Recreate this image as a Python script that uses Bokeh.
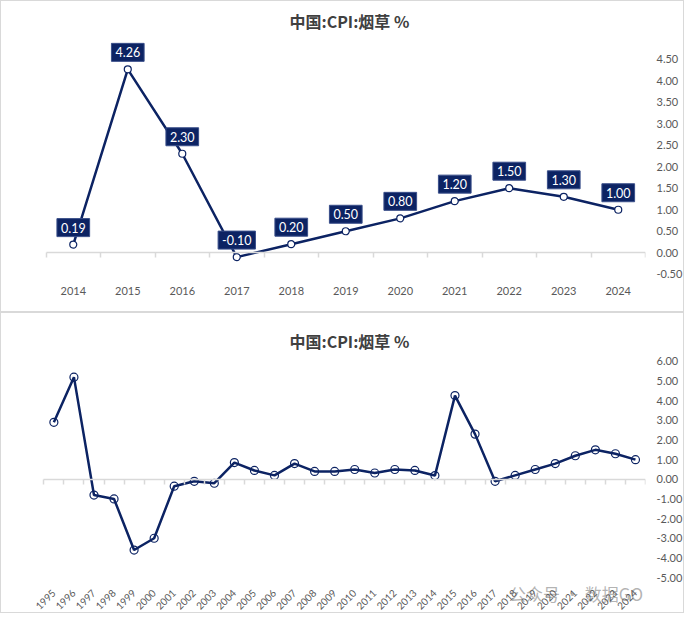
import math
from bokeh.plotting import figure
from bokeh.models import (ColumnDataSource, LinearAxis, FixedTicker, Range1d,
                          PrintfTickFormatter)
from bokeh.layouts import column
from bokeh.embed import file_html
from bokeh.resources import INLINE
from bokeh.core.properties import value

# ---------------- data ----------------
years = list(range(1995, 2025))
cpi_tobacco = [2.9, 5.2, -0.8, -1.0, -3.6, -3.0, -0.35, -0.1, -0.2, 0.85,
               0.45, 0.2, 0.8, 0.4, 0.4, 0.5, 0.32, 0.5, 0.45, 0.19,
               4.26, 2.30, -0.10, 0.20, 0.50, 0.80, 1.20, 1.50, 1.30, 1.00]
top_start_year = 2014
title_text = "中国:CPI:烟草 %"
top_yticks = [-0.5, 0.0, 0.5, 1.0, 1.5, 2.0, 2.5, 3.0, 3.5, 4.0, 4.5]
bottom_yticks = [-5, -4, -3, -2, -1, 0, 1, 2, 3, 4, 5, 6]
watermark = "公众号 · 数据GO"

NAVY = "#0c2363"
GRAY_TXT = "#595959"
AXIS_GRAY = "#d9d9d9"
TITLE_FONT = "Noto Sans CJK SC"
TICK_FONT = "Lato"


def base_fig(width, height, xr, yr, borders):
    l, r, t, b = borders
    p = figure(width=width, height=height, x_range=xr, y_range=yr,
               output_backend="svg", toolbar_location=None,
               y_axis_location="right", min_border_left=l, min_border_right=r,
               min_border_top=t, min_border_bottom=b,
               outline_line_color=None, background_fill_color="white",
               border_fill_color="white")
    p.styles = {"border": "1px solid #d9d9d9", "box-sizing": "border-box"}
    p.xgrid.visible = False
    p.ygrid.visible = False
    p.title.text = title_text
    p.title.align = "left"
    p.title.offset = 262
    p.title.text_font = TITLE_FONT
    p.title.text_font_size = "16px"
    p.title.text_font_style = "bold"
    p.title.text_color = "#404040"
    return p


def style_axes(p, n, labels, yticks, label_loc=None, orient=None,
               label_size="11px", standoff=2):
    xa = p.xaxis[0]
    xa.ticker = FixedTicker(ticks=list(range(n)))
    xa.major_label_overrides = {i: str(lab) for i, lab in enumerate(labels)}
    xa.axis_line_color = None
    xa.major_tick_line_color = None
    xa.minor_tick_line_color = None
    xa.major_label_text_font = TICK_FONT
    xa.major_label_text_font_size = label_size
    xa.major_label_text_color = GRAY_TXT
    xa.major_label_standoff = standoff
    if label_loc is not None:
        xa.fixed_location = label_loc
    if orient is not None:
        xa.major_label_orientation = orient

    ya = p.yaxis[0]
    ya.ticker = FixedTicker(ticks=yticks)
    ya.formatter = PrintfTickFormatter(format="%.2f")
    ya.axis_line_color = None
    ya.major_tick_line_color = None
    ya.minor_tick_line_color = None
    ya.major_label_text_font = TICK_FONT
    ya.major_label_text_font_size = "11px"
    ya.major_label_text_color = GRAY_TXT
    ya.major_label_standoff = 5

    zero = LinearAxis(fixed_location=0, bounds=(-0.5, n - 0.5),
                      ticker=FixedTicker(ticks=[k - 0.5 for k in range(n + 1)]),
                      axis_line_color=AXIS_GRAY, axis_line_width=1.5,
                      major_tick_line_color=AXIS_GRAY, major_tick_line_width=1.5,
                      major_tick_out=5, major_tick_in=0,
                      minor_tick_line_color=None,
                      major_label_text_color=None, major_label_standoff=0)
    p.add_layout(zero, "below")


# ---------------- top chart ----------------
i0 = years.index(top_start_year)
top_years = years[i0:]
top_vals = cpi_tobacco[i0:]
n_top = len(top_years)
src_top = ColumnDataSource(dict(x=list(range(n_top)), y=top_vals,
                                lbl=[f"{v:.2f}" for v in top_vals]))

p1 = base_fig(684, 312, Range1d(-0.84, n_top - 0.5), Range1d(-0.62, 5.0),
              (26, 32, 32, 34))
style_axes(p1, n_top, top_years, top_yticks, standoff=1)
p1.line("x", "y", source=src_top, line_color=NAVY, line_width=2.5)
p1.scatter("x", "y", source=src_top, size=7, fill_color="white",
           line_color=NAVY, line_width=1.2)
p1.text("x", "y", text="lbl", source=src_top, y_offset=-17,
        text_align="center", text_baseline="middle", text_color="white",
        text_font=value(TICK_FONT), text_font_size="12.5px",
        background_fill_color=NAVY, border_line_color="#3a4f8a",
        border_line_width=1, padding=4)

# ---------------- bottom chart ----------------
n_all = len(years)
src_all = ColumnDataSource(dict(x=list(range(n_all)), y=cpi_tobacco))
p2 = base_fig(684, 301, Range1d(-1.315, n_all - 0.5), Range1d(-6.83, 6.2),
              (26, 32, 44, 1))
style_axes(p2, n_all, years, bottom_yticks, label_loc=-5.3,
           orient=math.pi / 4, label_size="10px", standoff=2)
p2.line("x", "y", source=src_all, line_color=NAVY, line_width=2.5)
p2.scatter("x", "y", source=src_all, size=8, fill_color=None,
           line_color=NAVY, line_width=1.2)
p2.text(x=[22.7], y=[-5.81], text=[watermark], text_font=value(TITLE_FONT),
        text_font_size="17px", text_color="#9a9a9a", text_alpha=0.75,
        text_baseline="middle", text_align="left")

layout = column(p1, p2, spacing=0)
open("out.html", "w").write(file_html(layout, INLINE))
